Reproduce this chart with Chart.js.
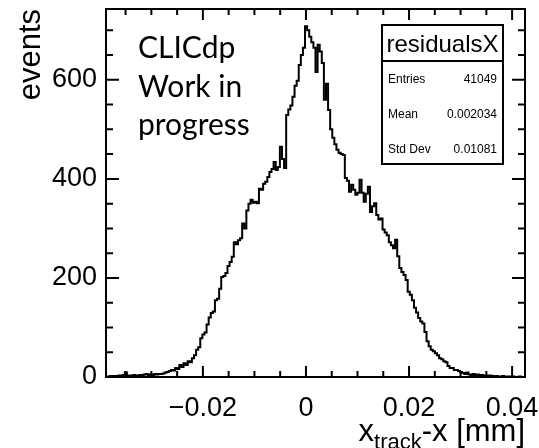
<!DOCTYPE html>
<html>
<head>
<meta charset="utf-8">
<script src="https://cdn.jsdelivr.net/npm/chart.js@4.4.0/dist/chart.umd.min.js"></script>
<style>
  html, body { margin: 0; padding: 0; background: #fff; }
</style>
</head>
<body>
<canvas id="myChart" width="539" height="448"></canvas>
<script>
  // histogram binning
  const binStart = -0.0388
  const binWidth = 0.0004065
  const xMin = -0.0388
  const xMax = 0.0425
  const yMax = 743

  // bin contents, left to right
  const counts = [
    0, 1, 1, 2, 1, 2, 1, 3, 2, 4, 9, 3, 3, 2, 4, 3, 3, 4, 3, 5, 6,
    4, 5, 4, 6, 5, 6, 6, 7, 9, 10, 12, 14, 13, 18, 16, 24, 20, 28, 24, 32,
    30, 38, 44, 55, 60, 78, 86, 90, 106, 120, 129, 132, 155, 158, 178, 202, 204, 210, 224, 232,
    243, 272, 268, 276, 280, 310, 300, 336, 350, 358, 352, 354, 351, 380, 378, 390, 394, 404, 414, 420,
    434, 418, 424, 465, 440, 422, 529, 540, 548, 566, 588, 598, 630, 650, 665, 708, 700, 687, 676, 665,
    616, 671, 657, 634, 560, 592, 539, 500, 483, 470, 459, 453, 450, 448, 402, 396, 374, 388, 378, 368,
    372, 398, 372, 354, 370, 384, 333, 345, 351, 327, 318, 320, 298, 292, 286, 272, 266, 260, 277, 244,
    220, 212, 206, 196, 172, 166, 155, 140, 130, 119, 112, 108, 91, 72, 62, 55, 52, 48, 44, 38,
    36, 32, 30, 22, 18, 18, 14, 14, 12, 10, 8, 6, 9, 5, 4, 6, 3, 5, 3, 4,
    2, 3, 2, 3, 2, 1, 2, 1, 1, 2, 0, 1, 1, 0, 1, 0, 0, 1, 0
  ]

  const xTicks = [-0.02, 0, 0.02, 0.04]
  const xTickLabels = ['\u22120.02', '0', '0.02', '0.04']
  const xMinorTicks = [-0.035, -0.03, -0.025, -0.015, -0.01, -0.005, 0.005, 0.01, 0.015, 0.025, 0.03, 0.035]
  const yTicks = [0, 200, 400, 600]
  const yTickLabels = ['0', '200', '400', '600']
  const yMinorTicks = [50, 100, 150, 250, 300, 350, 450, 500, 550, 650, 700]

  const statsTitle = 'residualsX'
  const statsNames = ['Entries', 'Mean', 'Std Dev']
  const statsValues = ['41049', '0.002034', '0.01081']
  const noteLines = ['CLICdp', 'Work in', 'progress']

  // step points at the bin edges, last edge repeats the last bin
  const histPoints = counts.map((c, i) => ({ x: binStart + i * binWidth, y: c }))
  histPoints.push({ x: binStart + counts.length * binWidth, y: counts[counts.length - 1] })

  const rootFrame = {
    id: 'rootFrame',
    afterDraw(chart) {
      const ctx = chart.ctx
      const a = chart.chartArea
      const xs = chart.scales.x
      const ys = chart.scales.y
      ctx.save()
      ctx.strokeStyle = '#000'
      ctx.fillStyle = '#000'

      // frame
      ctx.lineWidth = 2
      ctx.strokeRect(a.left, a.top, a.right - a.left, a.bottom - a.top)

      // ticks, inward on all four sides
      ctx.lineWidth = 2
      ctx.beginPath()
      const xTick = (v, len) => {
        const px = xs.getPixelForValue(v)
        ctx.moveTo(px, a.bottom); ctx.lineTo(px, a.bottom - len)
        ctx.moveTo(px, a.top); ctx.lineTo(px, a.top + len)
      }
      const yTick = (v, len) => {
        const py = ys.getPixelForValue(v)
        ctx.moveTo(a.left, py); ctx.lineTo(a.left + len, py)
        ctx.moveTo(a.right, py); ctx.lineTo(a.right - len, py)
      }
      xTicks.forEach(v => xTick(v, 11))
      xMinorTicks.forEach(v => xTick(v, 6))
      yTicks.forEach(v => yTick(v, 13))
      yMinorTicks.forEach(v => yTick(v, 7))
      ctx.stroke()

      // stats box
      const bx = 382, by = 25, bw = 121, bh = 139
      ctx.fillStyle = '#fff'
      ctx.fillRect(bx, by, bw, bh)
      ctx.lineWidth = 2
      ctx.strokeRect(bx, by, bw, bh)
      ctx.beginPath()
      ctx.moveTo(bx, 61); ctx.lineTo(bx + bw, 61)
      ctx.stroke()
      ctx.fillStyle = '#000'
      ctx.font = '24px "Liberation Sans"'
      ctx.textAlign = 'center'
      ctx.textBaseline = 'alphabetic'
      ctx.fillText(statsTitle, bx + bw / 2, 52)
      ctx.font = '12px "Liberation Sans"'
      statsNames.forEach((n, i) => {
        const yb = 83 + i * 35
        ctx.textAlign = 'left'
        ctx.fillText(n, 388, yb)
        ctx.textAlign = 'right'
        ctx.fillText(statsValues[i], 497, yb)
      })

      // CLICdp note
      ctx.font = '30px Lato'
      ctx.textAlign = 'left'
      noteLines.forEach((t, i) => ctx.fillText(t, 138, 58 + i * 38.5))

      // x axis title with subscript
      const big = '31px "Liberation Sans"', small = '22px "Liberation Sans"'
      ctx.font = big
      const w1 = ctx.measureText('x').width
      const w3 = ctx.measureText('-x [mm]').width
      ctx.font = small
      const w2 = ctx.measureText('track').width
      let x0 = a.right - (w1 + w2 + w3)
      ctx.textAlign = 'left'
      ctx.font = big
      ctx.fillText('x', x0, 441)
      ctx.font = small
      ctx.fillText('track', x0 + w1, 449)
      ctx.font = big
      ctx.fillText('-x [mm]', x0 + w1 + w2, 441)

      ctx.restore()
    }
  }

  const config = {
    type: 'line',
    data: {
      datasets: [{
        data: histPoints,
        borderColor: '#000',
        borderWidth: 2,
        fill: false,
        stepped: 'after',
        pointRadius: 0,
        tension: 0
      }]
    },
    options: {
      responsive: false,
      animation: false,
      layout: { padding: { top: 9, right: 14, left: 0, bottom: 0 } },
      plugins: {
        legend: { display: false },
        tooltip: { enabled: false }
      },
      scales: {
        x: {
          type: 'linear',
          min: xMin,
          max: xMax,
          grid: { display: false, drawTicks: false },
          border: { display: false },
          afterBuildTicks: s => { s.ticks = xTicks.map(v => ({ value: v })) },
          afterFit: s => { s.height = 71; s.paddingLeft = 0; s.paddingRight = 0 },
          ticks: {
            color: '#000',
            font: { family: 'Liberation Sans', size: 27 },
            padding: 15,
            maxRotation: 0,
            autoSkip: false,
            callback: v => xTickLabels[xTicks.indexOf(v)]
          }
        },
        y: {
          min: 0,
          max: yMax,
          grid: { display: false, drawTicks: false },
          border: { display: false },
          afterBuildTicks: s => { s.ticks = yTicks.map(v => ({ value: v })) },
          afterFit: s => { s.width = 106; s.paddingTop = 0; s.paddingBottom = 0 },
          ticks: {
            color: '#000',
            font: { family: 'Liberation Sans', size: 27 },
            padding: 9,
            callback: v => yTickLabels[yTicks.indexOf(v)]
          },
          title: {
            display: true,
            text: 'events',
            align: 'end',
            color: '#000',
            font: { family: 'Liberation Sans', size: 31 },
            padding: { top: 13, bottom: 0 }
          }
        }
      }
    },
    plugins: [rootFrame]
  }

  const myChart = new Chart(document.getElementById('myChart'), config)
</script>
</body>
</html>
